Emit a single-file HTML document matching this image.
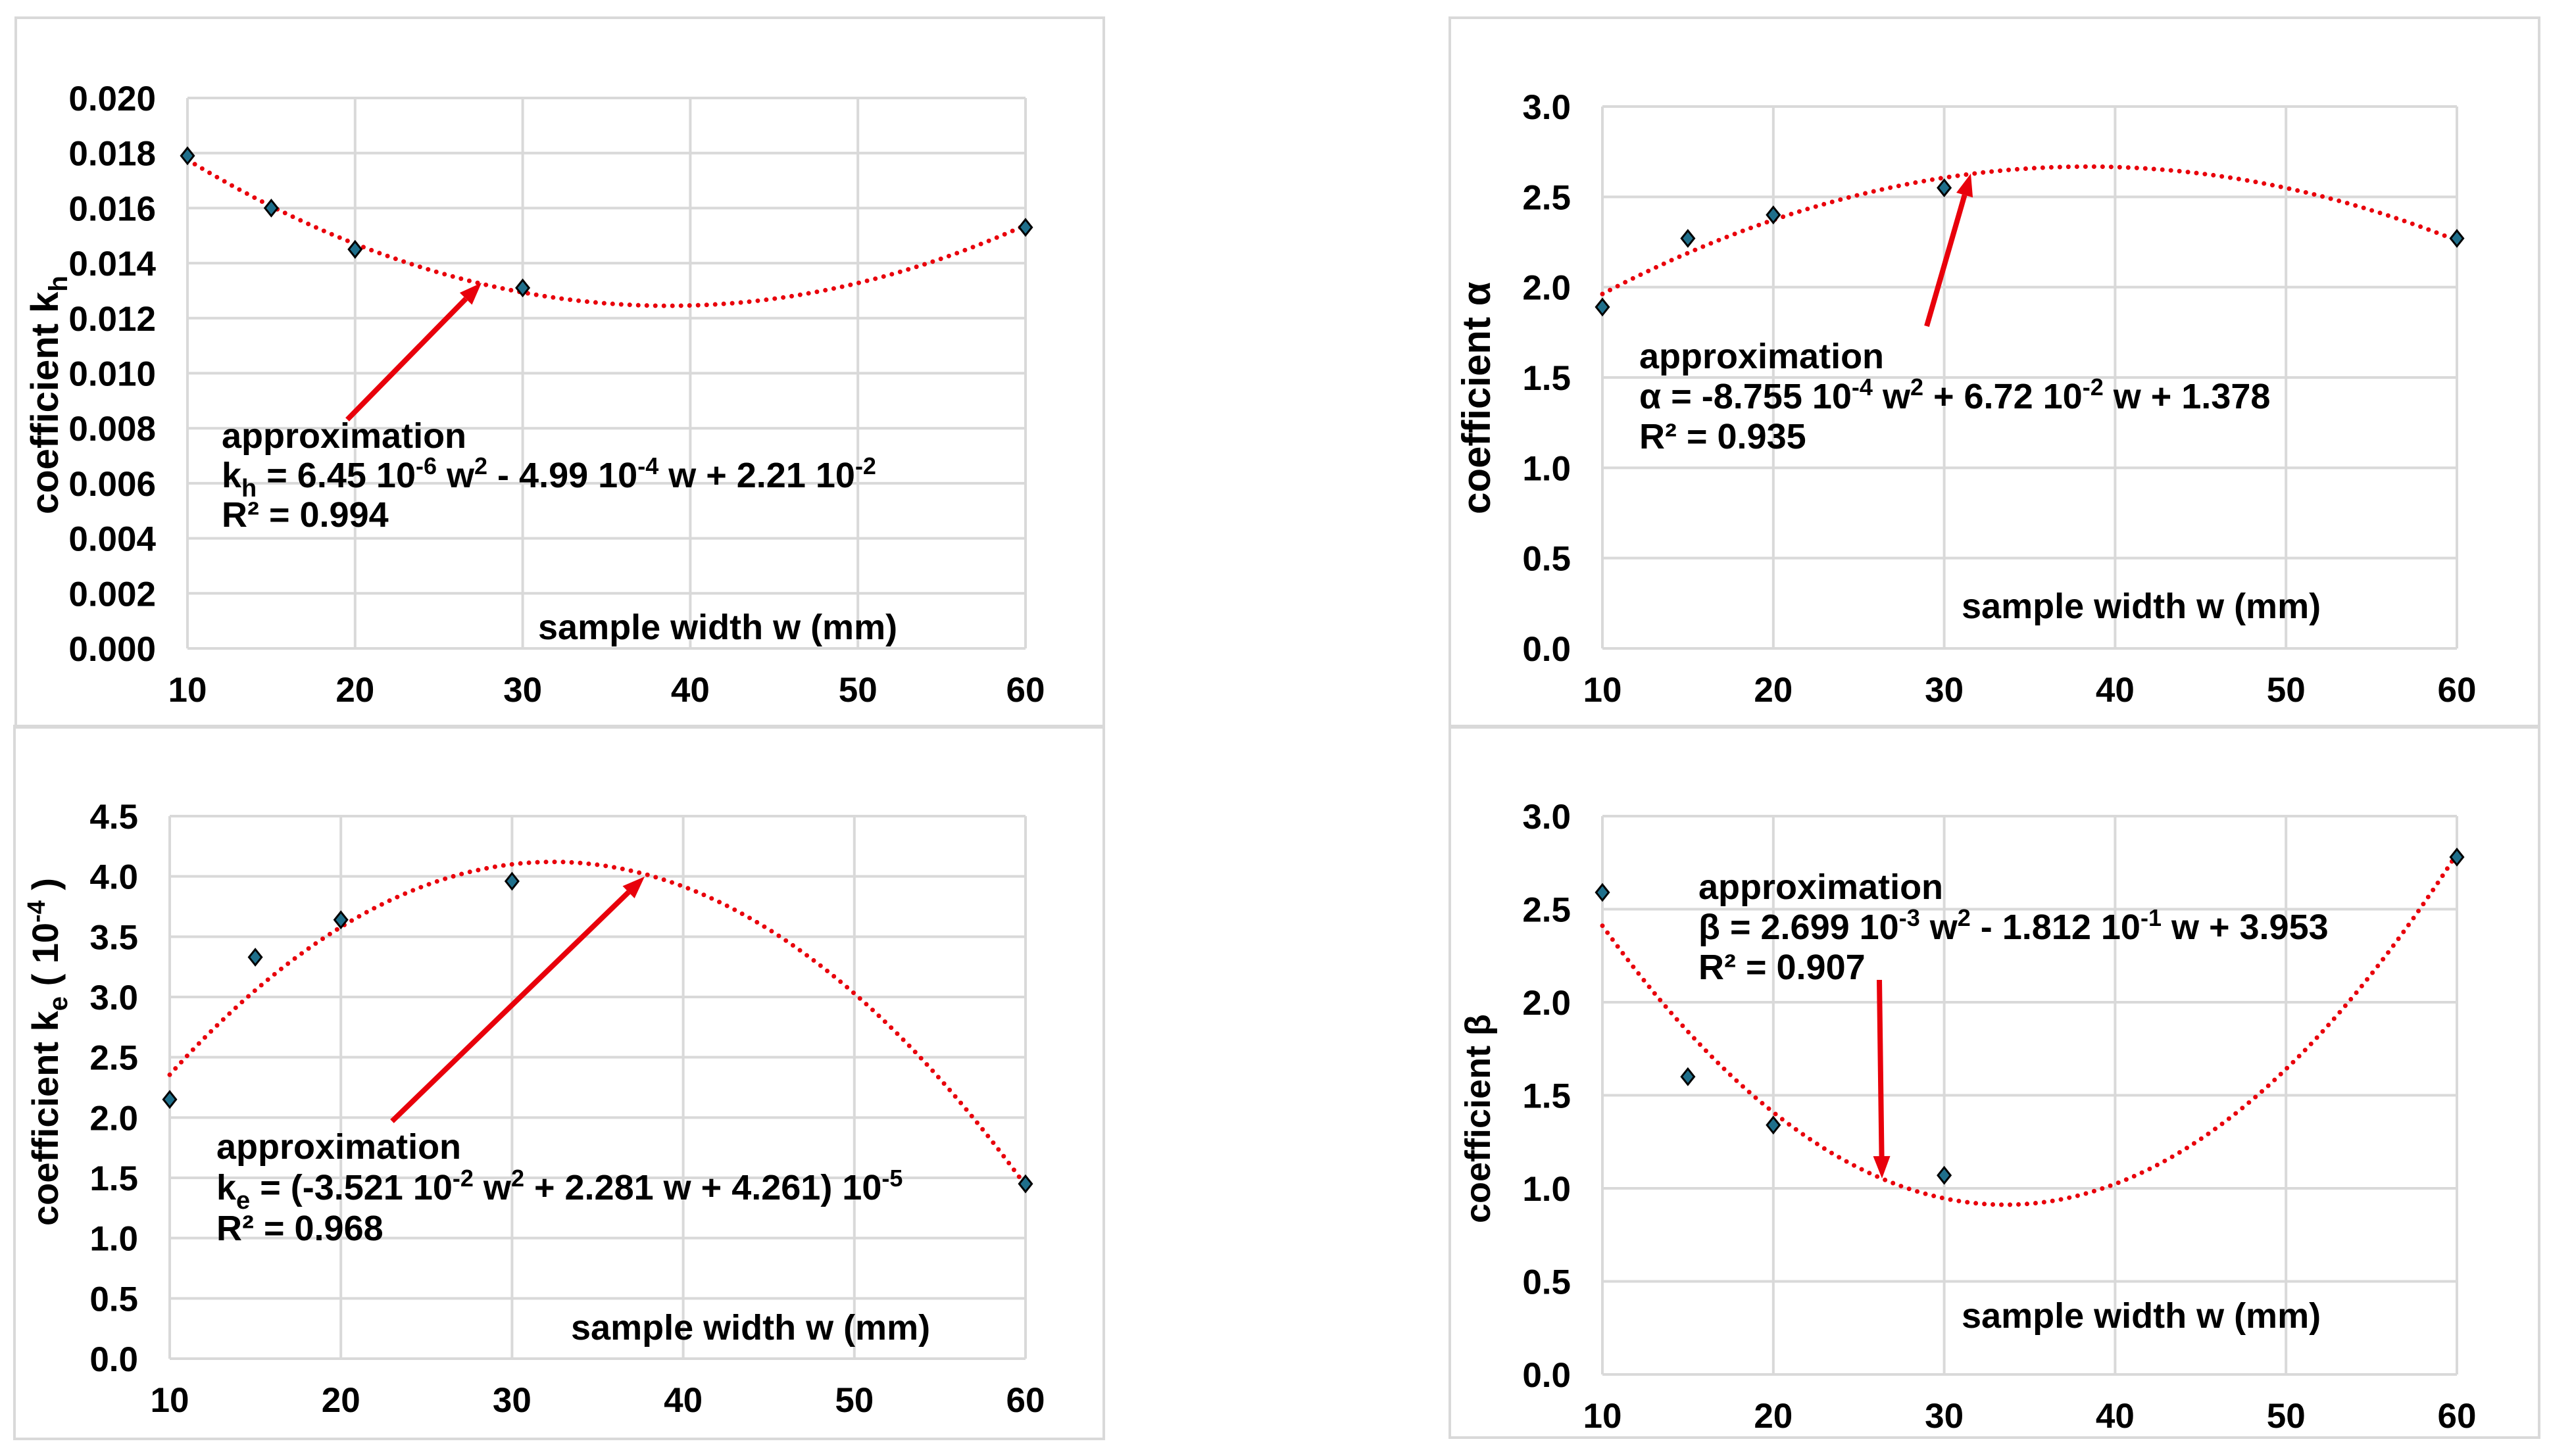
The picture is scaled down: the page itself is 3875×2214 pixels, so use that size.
<!DOCTYPE html>
<html><head><meta charset="utf-8"><style>
html,body{margin:0;padding:0;background:#fff}
svg{display:block}
text{font-family:"Liberation Sans",Arial,sans-serif;font-weight:bold;fill:#000}
</style></head><body>
<svg id="s" width="3875" height="2214" viewBox="0 0 3875 2214" xmlns="http://www.w3.org/2000/svg">
<rect x="0" y="0" width="3875" height="2214" fill="#fff"/>
<rect x="24" y="27" width="1654" height="1079" fill="none" stroke="#d9d9d9" stroke-width="4"/>
<rect x="2204" y="27" width="1656" height="1079" fill="none" stroke="#d9d9d9" stroke-width="4"/>
<rect x="22" y="1104" width="1656" height="1084" fill="none" stroke="#d9d9d9" stroke-width="4"/>
<rect x="2204" y="1104" width="1656" height="1082" fill="none" stroke="#d9d9d9" stroke-width="4"/>
</svg>
<script>
// shared x categories
const xTicks = [10, 20, 30, 40, 50, 60];
const widths = [10, 15, 20, 30, 60];
// chart 1: kh
const khValues = [0.0179, 0.0160, 0.0145, 0.0131, 0.0153];
const khFit = [6.45e-6, -4.99e-4, 2.21e-2];
const khTicks = ["0.000","0.002","0.004","0.006","0.008","0.010","0.012","0.014","0.016","0.018","0.020"];
// chart 2: alpha
const alphaValues = [1.89, 2.27, 2.40, 2.55, 2.27];
const alphaFit = [-8.755e-4, 6.72e-2, 1.378];
const alphaTicks = ["0.0","0.5","1.0","1.5","2.0","2.5","3.0"];
// chart 3: ke (10^-4)
const keValues = [2.15, 3.33, 3.64, 3.96, 1.45];
const keFit = [-3.521e-3, 2.281e-1, 4.261e-1];
const keTicks = ["0.0","0.5","1.0","1.5","2.0","2.5","3.0","3.5","4.0","4.5"];
// chart 4: beta
const betaValues = [2.59, 1.60, 1.34, 1.07, 2.78];
const betaFit = [2.699e-3, -1.812e-1, 3.953];
const betaTicks = ["0.0","0.5","1.0","1.5","2.0","2.5","3.0"];

const NS = "http://www.w3.org/2000/svg";
const svg = document.getElementById('s');
function mk(tag, attrs, parent){const e=document.createElementNS(NS,tag);for(const k in attrs)e.setAttribute(k,attrs[k]);(parent||svg).appendChild(e);return e;}

function chart(c){
  const g = mk('g',{});
  
  
  const ymax = parseFloat(c.ticks[c.ticks.length-1]);
  const X = v => c.L + (v-10)/(50)*(c.R-c.L);
  const Y = v => c.B - v/ymax*(c.B-c.T);
  c.ticks.forEach(t=>{
    const l = mk('line',{x1:c.L,x2:c.R,y1:Y(parseFloat(t)),y2:Y(parseFloat(t)),stroke:'#d9d9d9','stroke-width':4},g);
    
    
    const tx = mk('text',{x:c.L-48,y:Y(parseFloat(t))+19,'font-size':53,'text-anchor':'end'},g);
    tx.textContent = t;
    
    
  });
  xTicks.forEach(t=>{
    const l = mk('line',{x1:X(t),x2:X(t),y1:c.T,y2:c.B,stroke:'#d9d9d9','stroke-width':4},g);
    
    
    const tx = mk('text',{x:X(t),y:c.B+81,'font-size':53,'text-anchor':'middle'},g);
    tx.textContent = t;
    
    
  });
  let d='';
  for(let w=10; w<=60.001; w+=0.5){
    const v = c.fit[0]*w*w + c.fit[1]*w + c.fit[2];
    d += (d?'L':'M') + X(w).toFixed(1) + ',' + Y(v).toFixed(1);
  }
  const p = mk('path',{d:d,fill:'none',stroke:'#e8000b','stroke-width':7,'stroke-linecap':'round','stroke-dasharray':'0 13'},g);
  
  
  widths.forEach((w,i)=>{
    const x=X(w), y=Y(c.values[i]), s=12;
    const m = mk('polygon',{points:`${x},${y-s} ${x+s*0.8},${y} ${x},${y+s} ${x-s*0.8},${y}`,fill:'#1f6f8b',stroke:'#000','stroke-width':3},g);
    
    
  });
  const [ax1,ay1,ax2,ay2]=c.arrow;
  const ang=Math.atan2(ay2-ay1,ax2-ax1), hl=34, hw=13;
  const bx=ax2-hl*Math.cos(ang), by=ay2-hl*Math.sin(ang);
  const a = mk('line',{x1:ax1,y1:ay1,x2:bx,y2:by,stroke:'#e8000b','stroke-width':8},g);
  
  
  const ah = mk('polygon',{points:`${ax2},${ay2} ${bx+hw*Math.sin(ang)},${by-hw*Math.cos(ang)} ${bx-hw*Math.sin(ang)},${by+hw*Math.cos(ang)}`,fill:'#e8000b'},g);
  
  
  const ann = mk('text',{x:c.ax,y:c.ay,'font-size':54},g);
  
  
  ann.textContent='approximation';
  const eq = mk('text',{x:c.ax,y:c.ay+c.gap,'font-size':54},g);
  
  
  eq.innerHTML = c.eq;
  const r2 = mk('text',{x:c.ax,y:c.ay+2*c.gap,'font-size':54},g);
  
  
  r2.textContent = c.r2;
  const xt = mk('text',{x:c.sx,y:c.sy,'font-size':54},g);
  
  
  xt.textContent='sample width w (mm)';
  const yt = mk('text',{x:0,y:0,'font-size':c.yfs,'text-anchor':'start',transform:`translate(${c.yx},${c.yy}) rotate(-90)`},g);
  
  
  yt.innerHTML = c.yt;
}
chart({name:'chart-kh',L:285,R:1559,T:149,B:986,ticks:khTicks,values:khValues,fit:khFit,
  arrow:[528,638,732,430],ax:337,ay:681,gap:60,
  eq:`k<tspan dy="14" font-size="38">h</tspan><tspan dy="-14"> = 6.45 10</tspan><tspan dy="-20" font-size="36">-6</tspan><tspan dy="20"> w</tspan><tspan dy="-20" font-size="36">2</tspan><tspan dy="20"> - 4.99 10</tspan><tspan dy="-20" font-size="36">-4</tspan><tspan dy="20"> w + 2.21 10</tspan><tspan dy="-20" font-size="36">-2</tspan>`,
  r2:'R² = 0.994',sx:818,sy:972,yx:88,yy:782,yfs:58,
  yt:`coefficient k<tspan dy="14" font-size="40">h</tspan>`});
chart({name:'chart-alpha',L:2436,R:3735,T:162,B:986,ticks:alphaTicks,values:alphaValues,fit:alphaFit,
  arrow:[2929,496,2996,264],ax:2492,ay:560,gap:61,
  eq:`α = -8.755 10<tspan dy="-20" font-size="36">-4</tspan><tspan dy="20"> w</tspan><tspan dy="-20" font-size="36">2</tspan><tspan dy="20"> + 6.72 10</tspan><tspan dy="-20" font-size="36">-2</tspan><tspan dy="20">  w + 1.378</tspan>`,
  r2:'R² = 0.935',sx:2982,sy:940,yx:2265,yy:782,yfs:60,yt:'coefficient α'});
chart({name:'chart-ke',L:258,R:1559,T:1241,B:2066,ticks:keTicks,values:keValues,fit:keFit,
  arrow:[596,1705,980,1333],ax:329,ay:1762,gap:62,
  eq:`k<tspan dy="14" font-size="38">e</tspan><tspan dy="-14"> = (-3.521 10</tspan><tspan dy="-20" font-size="36">-2</tspan><tspan dy="20"> w</tspan><tspan dy="-20" font-size="36">2</tspan><tspan dy="20"> + 2.281 w + 4.261) 10</tspan><tspan dy="-20" font-size="36">-5</tspan>`,
  r2:'R² = 0.968',sx:868,sy:2037,yx:88,yy:1864,yfs:56,
  yt:`coefficient k<tspan dy="14" font-size="40">e</tspan><tspan dy="-14"> (  10</tspan><tspan dy="-20" font-size="38">-4</tspan><tspan dy="20">  )</tspan>`});
chart({name:'chart-beta',L:2436,R:3735,T:1241,B:2090,ticks:betaTicks,values:betaValues,fit:betaFit,
  arrow:[2857,1490,2861,1792],ax:2582,ay:1367,gap:61,
  eq:`β = 2.699 10<tspan dy="-20" font-size="36">-3</tspan><tspan dy="20"> w</tspan><tspan dy="-20" font-size="36">2</tspan><tspan dy="20"> - 1.812 10</tspan><tspan dy="-20" font-size="36">-1</tspan><tspan dy="20"> w + 3.953</tspan>`,
  r2:'R² = 0.907',sx:2982,sy:2019,yx:2265,yy:1860,yfs:54,yt:'coefficient β'});
</script>
</body></html>
